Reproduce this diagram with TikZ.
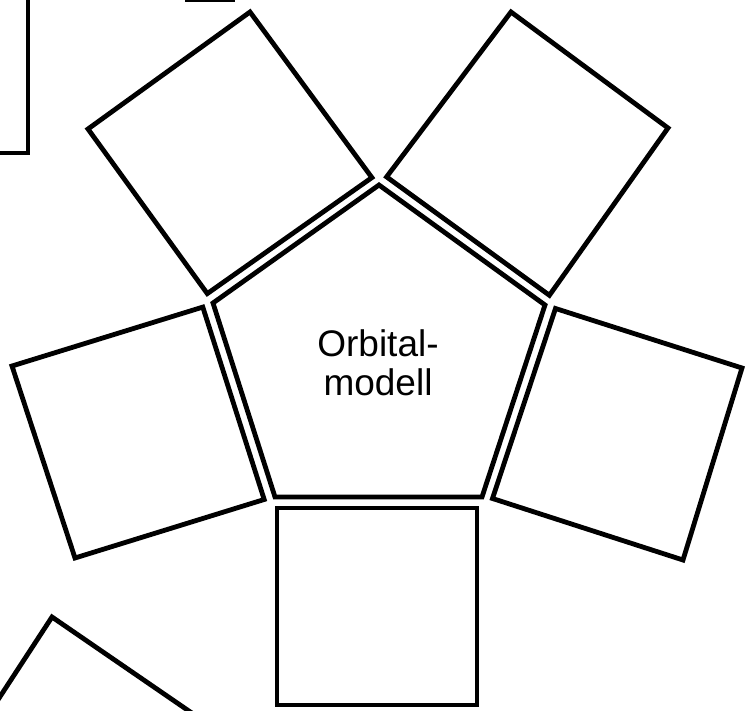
\documentclass[tikz,border=0pt]{standalone}
\usepackage{fontspec}
\setmainfont{Liberation Sans}
\begin{document}
\begin{tikzpicture}[x=1pt,y=-1pt,
  shapeline/.style={draw=black,line width=4.8pt,line join=miter},
  lbl/.style={align=center,font=\fontsize{37}{38.5}\selectfont,inner sep=0pt}]
\useasboundingbox (0,0) rectangle (748,711);
% pentagon
\coordinate (pT) at (379,185);
\coordinate (pUR) at (545,305);
\coordinate (pLR) at (482,497);
\coordinate (pLL) at (275,497);
\coordinate (pUL) at (213,303);
\draw[shapeline] (pT) -- (pUR) -- (pLR) -- (pLL) -- (pUL) -- cycle;
% squares
\draw[shapeline] (250,12) -- (371.9,177.6) -- (207.3,293.6) -- (88,129) -- cycle;
\draw[shapeline] (511,12) -- (668,128) -- (549.4,295.3) -- (386.6,176.9) -- cycle;
\draw[shapeline] (12,366) -- (202.8,307.1) -- (264.2,499.5) -- (75,558) -- cycle;
\draw[shapeline] (555.5,308.5) -- (742,368) -- (683,560) -- (492.5,498.5) -- cycle;
\draw[shapeline] (277,508) -- (477,508) -- (477,705) -- (277,705) -- cycle;
% partial shapes at the margins
\draw[shapeline] (28,-10) -- (28,153) -- (-10,153);
\draw[shapeline] (185,0) -- (235,0);
\draw[shapeline] (-10,712) -- (52,617) -- (202,720);
% label
\node[lbl] (t) at (378,363) {Orbital-\\modell};
\end{tikzpicture}
\end{document}
